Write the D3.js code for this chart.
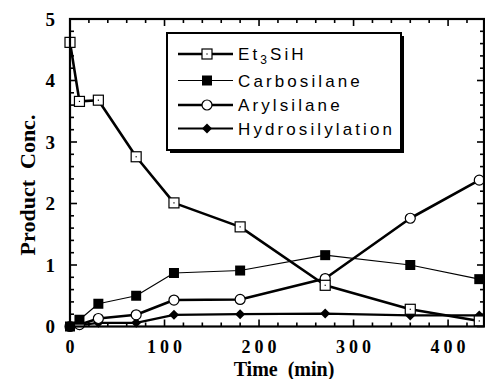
<!DOCTYPE html>
<html><head><meta charset="utf-8">
<script src="https://cdn.jsdelivr.net/npm/d3@7"></script>
<style>body{margin:0;background:#fff}svg{display:block}</style>
</head><body>
<svg id="c" width="485" height="379"></svg>
<script>
const time = [0, 10, 30, 70, 110, 180, 270, 360, 433];
const et3sih = [4.62, 3.66, 3.68, 2.76, 2.01, 1.62, 0.67, 0.28, 0.09];
const carbosilane = [0, 0.11, 0.37, 0.50, 0.87, 0.91, 1.16, 1.00, 0.77];
const arylsilane = [0, 0.03, 0.13, 0.19, 0.43, 0.44, 0.78, 1.76, 2.38];
const hydrosilylation = [0, 0.02, 0.06, 0.06, 0.19, 0.20, 0.21, 0.18, 0.18];
const seriesNames = ["Et\u2083SiH", "Carbosilane", "Arylsilane", "Hydrosilylation"];
const xTicks = [0, 100, 200, 300, 400];
const yTicks = [0, 1, 2, 3, 4, 5];

const svg = d3.select("#c");
const L = 70, R = 484, T = 19, B = 326.5;
const x = d3.scaleLinear().domain([0, 438]).range([L, R]);
const y = d3.scaleLinear().domain([0, 5]).range([B, T]);

const series = [
  {name: seriesNames[0], vals: et3sih, w: 2.6, marker: "osq"},
  {name: seriesNames[1], vals: carbosilane, w: 1.1, marker: "fsq"},
  {name: seriesNames[2], vals: arylsilane, w: 2.6, marker: "ocirc"},
  {name: seriesNames[3], vals: hydrosilylation, w: 2.2, marker: "dia"}
];

// ticks
const g = svg.append("g");
const xMinor = d3.range(0, 439, 20);
const yMinor = d3.range(0, 5.01, 0.2);
function tick(x1,y1,x2,y2,w){g.append("line").attr("x1",x1).attr("y1",y1).attr("x2",x2).attr("y2",y2).attr("stroke","#000").attr("stroke-width",w);}
xMinor.forEach(v=>{
  const major = v % 100 === 0;
  const len = major ? 7 : 4;
  tick(x(v), B, x(v), B-len, 1.6);
  tick(x(v), T, x(v), T+len, 1.6);
});
yMinor.forEach(v=>{
  const major = Math.abs(v - Math.round(v)) < 1e-6;
  const len = major ? 7 : 4;
  tick(L, y(v), L+len, y(v), 1.6);
  tick(R, y(v), R-len, y(v), 1.6);
});

// series
const line = d3.line().x(d=>x(d[0])).y(d=>y(d[1]));
function drawMarker(sel, type, cx, cy){
  if(type==="osq"){
    sel.append("rect").attr("x",cx-5).attr("y",cy-5).attr("width",10).attr("height",10).attr("fill","#fff").attr("stroke","#000").attr("stroke-width",1.2);
    sel.append("rect").attr("x",cx-0.6).attr("y",cy-0.6).attr("width",1.2).attr("height",1.2).attr("fill","#000");
  } else if(type==="fsq"){
    sel.append("rect").attr("x",cx-5).attr("y",cy-5).attr("width",10).attr("height",10).attr("fill","#000");
  } else if(type==="ocirc"){
    sel.append("circle").attr("cx",cx).attr("cy",cy).attr("r",5).attr("fill","#fff").attr("stroke","#000").attr("stroke-width",1.2);
  } else {
    sel.append("path").attr("d",`M${cx},${cy-5}L${cx+5},${cy}L${cx},${cy+5}L${cx-5},${cy}Z`).attr("fill","#000");
  }
}
const order = [3,2,1,0];
order.forEach(i=>{
  const s = series[i];
  const pts = time.map((t,j)=>[t, s.vals[j]]);
  svg.append("path").attr("d", line(pts)).attr("fill","none").attr("stroke","#000").attr("stroke-width", s.w).attr("stroke-linejoin","round");
});
order.forEach(i=>{
  const s = series[i];
  const mg = svg.append("g");
  time.forEach((t,j)=>drawMarker(mg, s.marker, x(t), y(s.vals[j])));
});

// frame
svg.append("rect").attr("x",L).attr("y",T).attr("width",R-L).attr("height",B-T).attr("fill","none").attr("stroke","#000").attr("stroke-width",2.2);

// tick labels
const serif = "'Liberation Serif','Times New Roman',serif";
xTicks.forEach(v=>{
  svg.append("text").attr("x", x(v)+2).attr("y", 353).attr("text-anchor","middle")
    .attr("font-family",serif).attr("font-weight","bold").attr("font-size",18)
    .attr("letter-spacing","4px").text(String(v));
});
yTicks.forEach(v=>{
  svg.append("text").attr("x", 55).attr("y", y(v)+6.5).attr("text-anchor","end")
    .attr("font-family",serif).attr("font-weight","bold").attr("font-size",19).text(String(v));
});
// axis titles
svg.append("text").attr("x", 284).attr("y", 376).attr("text-anchor","middle")
  .attr("font-family",serif).attr("font-weight","bold").attr("font-size",20)
  .style("white-space","pre").text("Time  (min)");
svg.append("text").attr("transform","translate(35,185) rotate(-90)").attr("text-anchor","middle")
  .attr("font-family",serif).attr("font-weight","bold").attr("font-size",22)
  .style("white-space","pre").text("Product  Conc.");

// legend
const lg = svg.append("g");
const bx = 167, by = 33, bw = 234, bh = 117;
lg.append("rect").attr("x",bx+3).attr("y",by+3).attr("width",bw).attr("height",bh).attr("fill","#000");
lg.append("rect").attr("x",bx).attr("y",by).attr("width",bw).attr("height",bh).attr("fill","#fff").attr("stroke","#000").attr("stroke-width",2);
const rowY = [0, 1, 2, 3].map(i => by + 21 + i*24.5 + (i>0 ? 2 : 0) - (i===3?1:0));
series.forEach((s,i)=>{
  const yy = rowY[i];
  lg.append("line").attr("x1",178).attr("x2",233).attr("y1",yy).attr("y2",yy).attr("stroke","#000").attr("stroke-width", s.w);
  drawMarker(lg, s.marker, 207, yy);
  const t = lg.append("text").attr("x",238).attr("y",yy+6).attr("font-family","'Liberation Sans',Arial,sans-serif")
    .attr("font-size",17).attr("letter-spacing","3.1px");
  if(i===0){
    t.append("tspan").text("Et");
    t.append("tspan").attr("font-size",12).attr("dy",4).text("3");
    t.append("tspan").attr("dy",-4).text("SiH");
  } else t.text(s.name);
});
</script>
</body></html>
